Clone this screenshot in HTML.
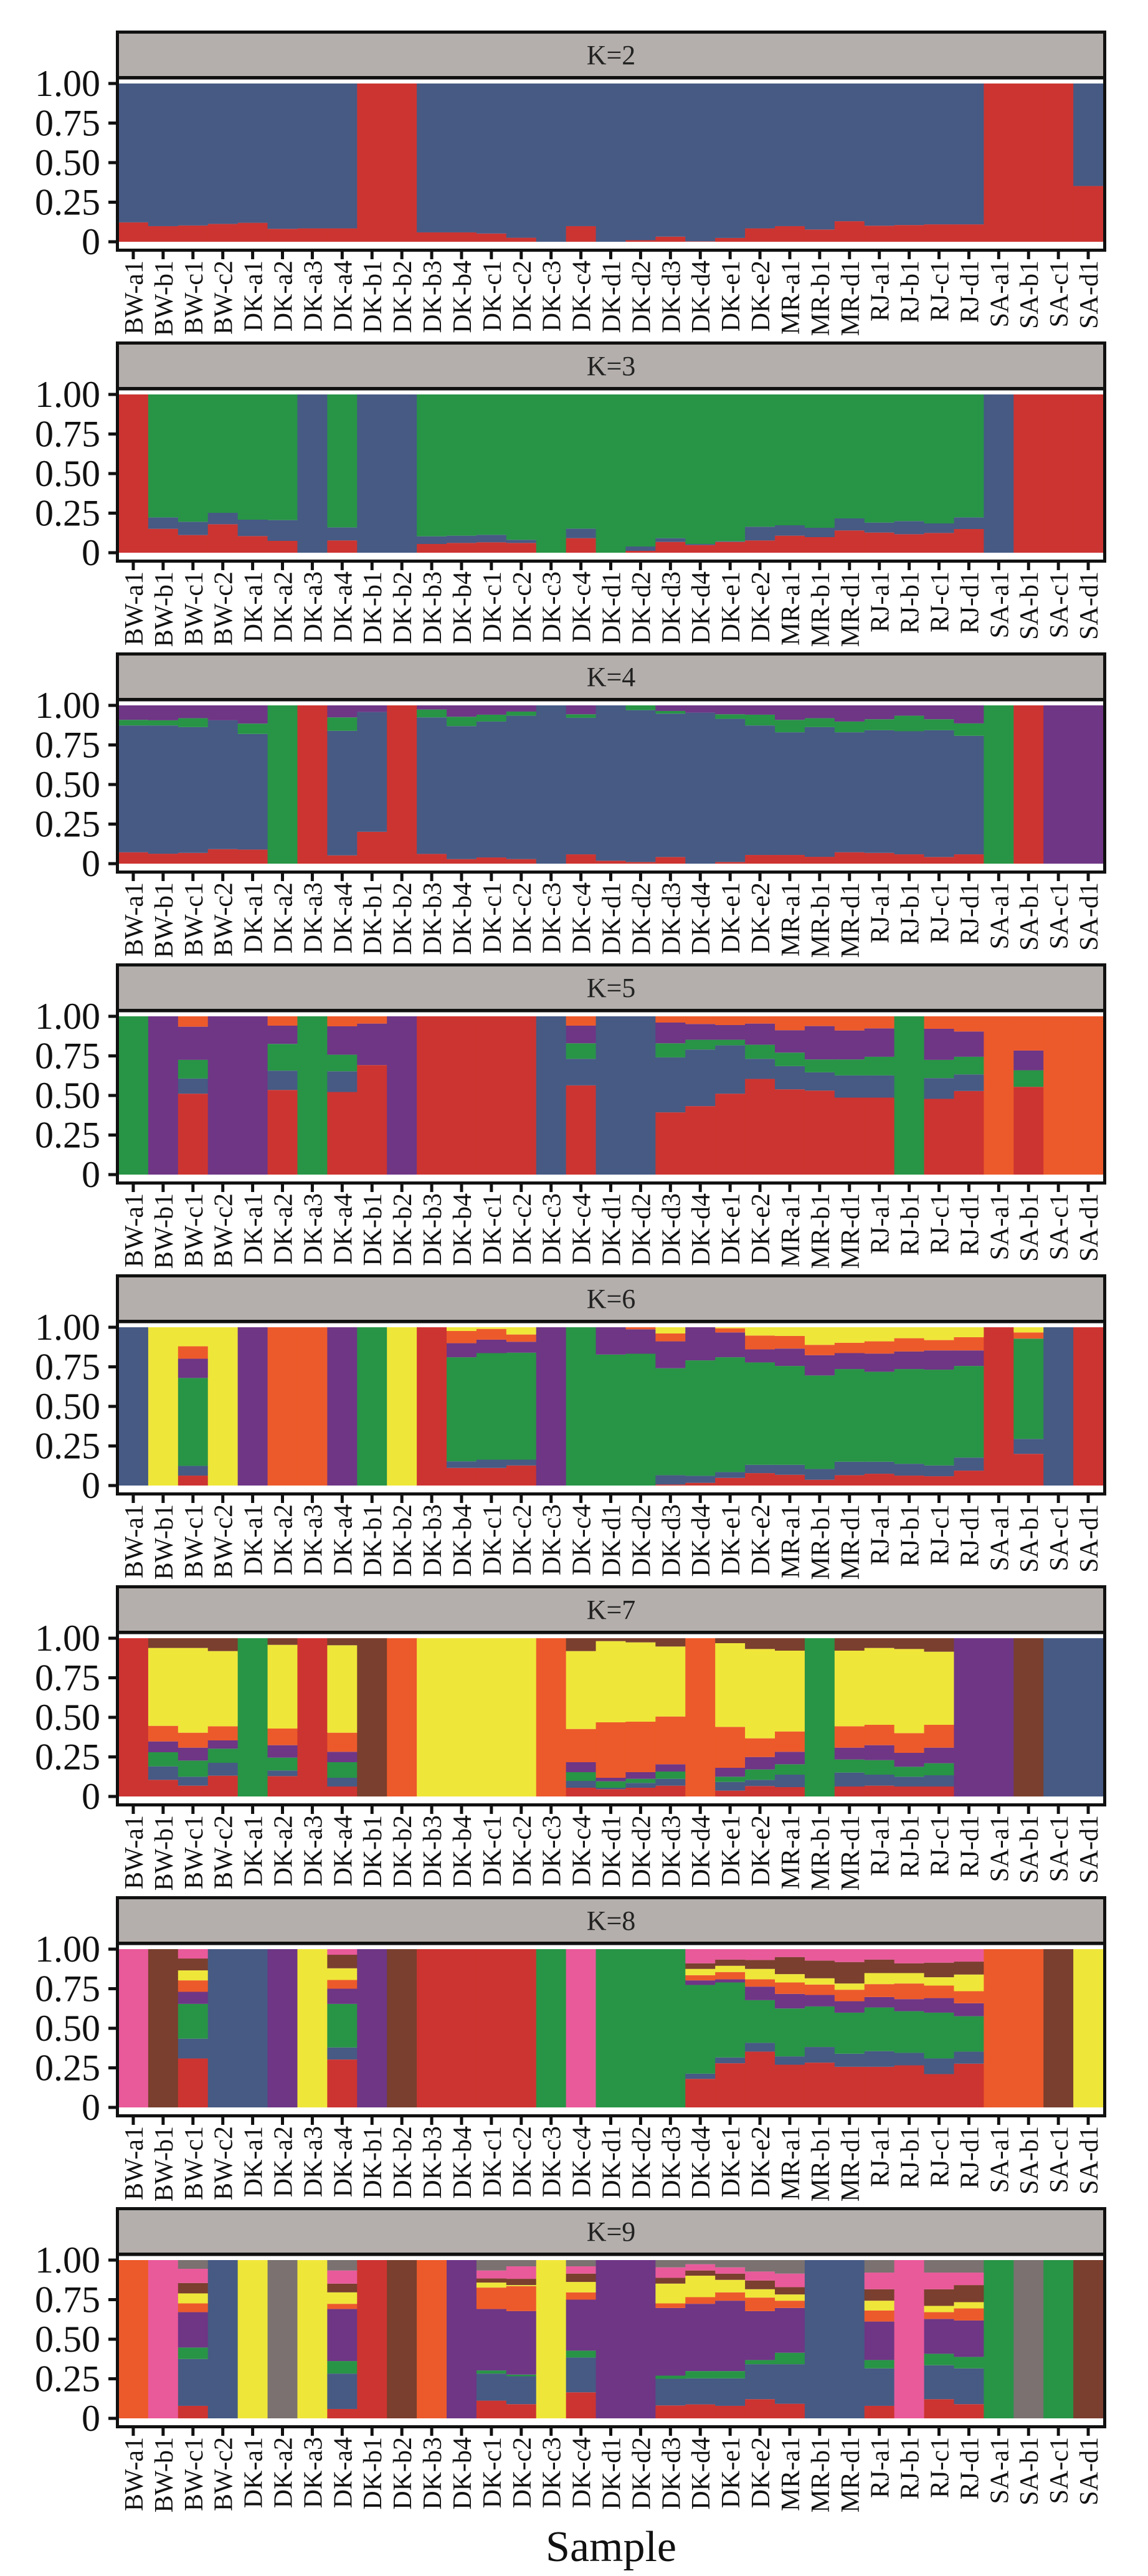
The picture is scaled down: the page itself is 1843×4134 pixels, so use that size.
<!DOCTYPE html>
<html><head><meta charset="utf-8"><style>
html,body{margin:0;padding:0;background:#fff;}
svg{display:block;}
</style></head><body>
<svg id="s" width="1843" height="4134" xmlns="http://www.w3.org/2000/svg" font-family="'Liberation Serif', serif"></svg>
<script>
const C={r:'#CC3431',b:'#465A84',g:'#289446',p:'#6E3685',o:'#EC5A2B',y:'#EFE63A',n:'#7A3F2E',k:'#E95A9A',a:'#7A7170'};
const names=["BW-a1","BW-b1","BW-c1","BW-c2","DK-a1","DK-a2","DK-a3","DK-a4","DK-b1","DK-b2","DK-b3","DK-b4","DK-c1","DK-c2","DK-c3","DK-c4","DK-d1","DK-d2","DK-d3","DK-d4","DK-e1","DK-e2","MR-a1","MR-b1","MR-d1","RJ-a1","RJ-b1","RJ-c1","RJ-d1","SA-a1","SA-b1","SA-c1","SA-d1"];
const P=[
{k:2,T:375,B:1085,bars:["r998 b","r1015 b","r1012 b","r1005 b","r1000 b","r1027 b","r1025 b","r1025 b","r","r","r1043 b","r1043 b","r1048 b","r1067 b","b","r1015 b","b","r1078 b","r1062 b","r1083 b","r1068 b","r1025 b","r1015 b","r1030 b","r993 b","r1013 b","r1010 b","r1007 b","r1007 b","r","r","r","r835 b"]},
{k:3,T:30,B:792,bars:["r","r677 b622 g","r707 b643 g","r655 b600 g","r712 b633 g","r735 b635 g","b","r733 b670 g","b","b","r750 b713 g","r745 b710 g","r742 b706 g","r745 b730 g","g","r722 b676 g","g","r783 b762 g","r740 b722 g","r755 b750 g","r740 b737 g","r733 b667 g","r710 b660 g","r717 b672 g","r685 b627 g","r695 b647 g","r703 b640 g","r697 b651 g","r678 b622 g","b","r","r","r"]},
{k:4,T:25,B:790,bars:["r735 b122 g95 p","r742 b122 g97 p","r738 b130 g87 p","r720 b97 p","r722 b163 g113 p","g","r","r750 b148 g83 p","r636 b57 p","r","r743 b83 g45 p","r768 b125 g80 p","r760 b103 g70 p","r768 b75 g55 p","b","r745 b85 g68 p","r776 b","r782 b48 g","r758 b65 g52 p","r790 b60 p","r782 b90 g68 p","r748 b122 g70 p","r748 b155 g95 p","r757 b130 g87 p","r735 b155 g103 p","r738 b145 g92 p","r745 b150 g75 p","r758 b145 g92 p","r745 b172 g112 p","g","r","p","p"]},
{k:5,T:20,B:783,bars:["g","p","r393 b320 g230 p70 o","p","p","r375 b282 g153 p65 o","g","r385 b285 g205 p68 o","r255 p55 o","p","r","r","r","r","b","r353 b225 g150 p65 o","b","b","r483 b218 g150 p50 o","r453 b180 g133 p57 o","r393 b160 g133 p62 o","r322 b225 g157 p55 o","r372 b260 g195 p87 o","r378 b290 g228 p67 o","r412 b305 g228 p88 o","r412 b305 g215 p78 o","g","r418 b318 g230 p80 o","r380 b300 g215 p93 o","o","r360 g280 p185 o","o","o"]},
{k:6,T:20,B:785,bars:["b","y","r737 b690 g265 p172 o112 y","y","p","o","o","p","g","y","r","r700 b668 g165 p97 o38 y","r700 b660 g145 p80 o28 y","r688 b660 g143 p90 o55 y","p","g","g152 p","g148 p30 o","r780 b735 g218 p88 o50 y","r772 b738 g180 p","r748 b720 g165 p45 o25 y","r725 b685 g190 p127 o60 y","r733 b685 g207 p123 o62 y","r757 b705 g253 p155 o105 y","r735 b670 g222 p145 o95 y","r728 b670 g235 p147 o88 y","r737 b680 g222 p137 o73 y","r740 b688 g225 p132 o82 y","r713 b650 g207 p132 o68 y","r","r632 b560 g75 o45 y","b","r"]},
{k:7,T:28,B:790,bars:["r","r710 b645 g577 p525 o450 y75 n","r738 b695 g617 p555 o483 y75 n","r690 b628 g560 p520 o452 y90 n","g","r692 b665 g603 p543 o463 y60 n","r","r742 b700 g625 p575 o483 y62 n","n","o","y","y","y","y","o","r748 b715 g673 p625 o465 y90 n","r755 b748 g717 p700 o433 y42 n","r748 b725 g705 p673 o430 y48 n","r738 b705 g670 p635 o405 y68 n","o","r762 b720 g695 p652 o455 y52 n","r740 b710 g660 p600 o510 y80 n","r745 b685 g635 p575 o477 y88 n","g","r742 b675 g612 p555 o452 y88 n","r738 b685 g615 p543 o445 y75 n","r742 b695 g647 p580 o485 y80 n","r742 b688 g630 p555 o445 y93 n","p","p","n","b","b"]},
{k:8,T:20,B:780,bars:["k","n","r545 b450 g283 p225 o170 y122 n65 k","b","b","p","y","r550 b492 g283 p210 o168 y112 n47 k","p","n","r","r","r","r","g","k","g","g","g","r643 b618 g192 p170 o145 y115 n88 k","r568 b540 g180 p165 o130 y100 n70 k","r512 b470 g265 p200 o165 y115 n72 k","r575 b535 g305 p235 o180 y140 n58 k","r565 b490 g295 p240 o190 y160 n75 k","r585 b522 g325 p270 o215 y185 n82 k","r585 b510 g300 p250 o188 y135 n70 k","r578 b518 g318 p260 o185 y135 n88 k","r620 b545 g325 p255 o195 y155 n85 k","r570 b512 g342 p280 o222 y142 n80 k","o","o","n","y"]},
{k:9,T:20,B:780,bars:["o","k","r720 b495 g440 p270 o228 y180 n130 k62 a","b","y","a","y","r735 b565 g505 p255 o230 y175 n133 k70 a","r","n","o","p","r695 b565 g550 p255 o152 y128 n108 k70 a","r712 b578 g570 p265 o145 y140 n110 k50 a","y","r655 b488 g455 p210 o175 y125 n85 k50 a","p","p","r718 b590 g575 p250 o228 y133 n105 k55 a","r713 b588 g553 p230 o198 y95 n70 k40 a","r720 b588 g553 p215 o175 y115 n85 k55 a","r688 b520 g500 p265 o200 y160 n118 k75 a","r710 b520 g465 p250 o215 y185 n150 k85 a","b","b","r720 b540 g500 p315 o262 y215 n160 k80 a","k","r688 b525 g470 p303 o270 y240 n160 k80 a","r712 b540 g485 p310 o252 y222 n140 k80 a","g","a","g","n"]}
];
let h='';
const L=186,R=1776,bx0=190,bw=1581/33;
P.forEach((pn,i)=>{
  const top=49+499*i;
  const y1=top+85,y0=top+339,H=y0-y1;
  h+=`<rect x="${L}" y="${top+78}" width="${R-L}" height="${355-78}" fill="#fff"/>`;
  pn.bars.forEach((s,j)=>{
    const x=bx0+bw*j;
    let prev=0;
    s.split(' ').forEach(t=>{
      const c=C[t[0]];
      let v=t.length>1?(pn.B-parseFloat(t.slice(1)))/(pn.B-pn.T):1;
      v=Math.max(0,Math.min(1,v));
      if(v>prev){
        const ya=y0-v*H, yb=y0-prev*H;
        h+=`<rect x="${x.toFixed(2)}" y="${ya.toFixed(2)}" width="${(bw+0.6).toFixed(2)}" height="${(yb-ya).toFixed(2)}" fill="${c}"/>`;
      }
      prev=Math.max(prev,v);
    });
  });
  h+=`<rect x="${L+2.5}" y="${top+2.5}" width="${R-L-5}" height="73" fill="#B4AFAC" stroke="#111" stroke-width="5"/>`;
  h+=`<text x="${(L+R)/2}" y="${top+54}" font-size="44" text-anchor="middle" fill="#222">K=${pn.k}</text>`;
  h+=`<rect x="${L+2.5}" y="${top+76}" width="${R-L-5}" height="${355-78.5}" fill="none" stroke="#111" stroke-width="5"/>`;
  [[0,'0'],[0.25,'0.25'],[0.5,'0.50'],[0.75,'0.75'],[1,'1.00']].forEach(([v,l])=>{
    const y=y0-v*H;
    h+=`<rect x="174" y="${y-2.5}" width="12" height="5" fill="#111"/>`;
    h+=`<text x="161" y="${y+20}" font-size="60" text-anchor="end" fill="#111">${l}</text>`;
  });
  names.forEach((n,j)=>{
    const x=bx0+bw*(j+0.5);
    h+=`<rect x="${x-2.5}" y="${top+355}" width="5" height="12" fill="#111"/>`;
    h+=`<text transform="translate(${(x+15).toFixed(1)},${top+369}) rotate(-90)" font-size="42" text-anchor="end" fill="#111">${n}</text>`;
  });
});
h+=`<text x="981" y="4110" font-size="70" text-anchor="middle" fill="#111">Sample</text>`;
document.getElementById('s').innerHTML=h;
</script>
</body></html>
